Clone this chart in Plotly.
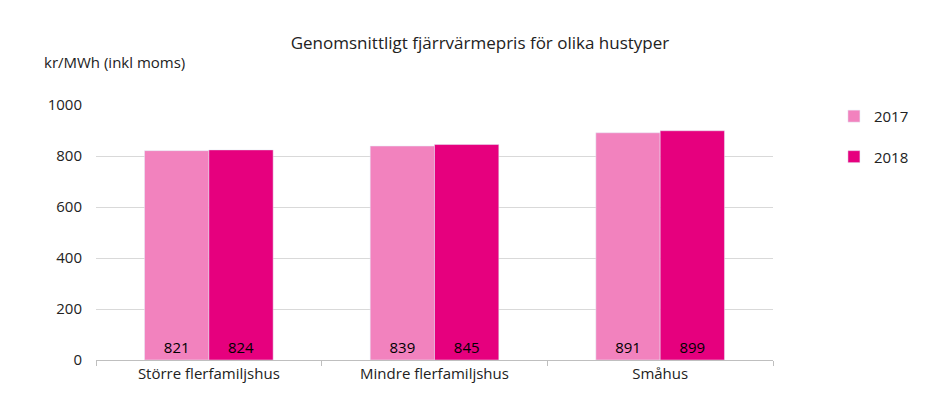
import plotly.graph_objects as go

categories = ["Större flerfamiljshus", "Mindre flerfamiljshus", "Småhus"]
v2017 = [821, 839, 891]
v2018 = [824, 845, 899]

fig = go.Figure()
fig.add_bar(name="2017", x=categories, y=v2017, marker_color="#F282BE", legendgroup="a",
            text=v2017, textposition="inside", insidetextanchor="start",
            textfont=dict(color="#000000", size=15))
fig.add_bar(name="2018", x=categories, y=v2018, marker_color="#E6007E", legendgroup="b",
            text=v2018, textposition="inside", insidetextanchor="start",
            textfont=dict(color="#000000", size=15))
fig.update_traces(textangle=0)
fig.update_layout(
    width=944, height=413, barmode="group", bargap=0.43, bargroupgap=0,
    plot_bgcolor="white", paper_bgcolor="white",
    font=dict(family="Open Sans", size=14, color="#222"),
    margin=dict(l=88, r=179, t=97, b=61),
    title=dict(text="Genomsnittligt fjärrvärmepris för olika hustyper", x=0.5, xanchor="center", y=0.93, font=dict(size=17)),
    legend=dict(x=1.09, y=1.02, xanchor="left", yanchor="top", traceorder="grouped", tracegroupgap=18, font=dict(size=15)),
    annotations=[dict(text="kr/MWh (inkl moms)", xref="paper", yref="paper", x=-0.08, y=1.17,
                      xanchor="left", yanchor="middle", showarrow=False, font=dict(size=15))],
    uniformtext=dict(mode="show", minsize=14),
)
fig.update_yaxes(range=[0, 1000], dtick=200, gridcolor="#D9D9D9", showline=False, zeroline=False,
                 tickfont=dict(size=15), ticklen=10, ticks="outside", tickcolor="white")
fig.update_xaxes(showline=True, linecolor="#BFBFBF", ticks="outside", tickson="boundaries",
                 tickcolor="#BFBFBF", ticklen=5, tickfont=dict(size=15))
fig.write_html("out.html")
